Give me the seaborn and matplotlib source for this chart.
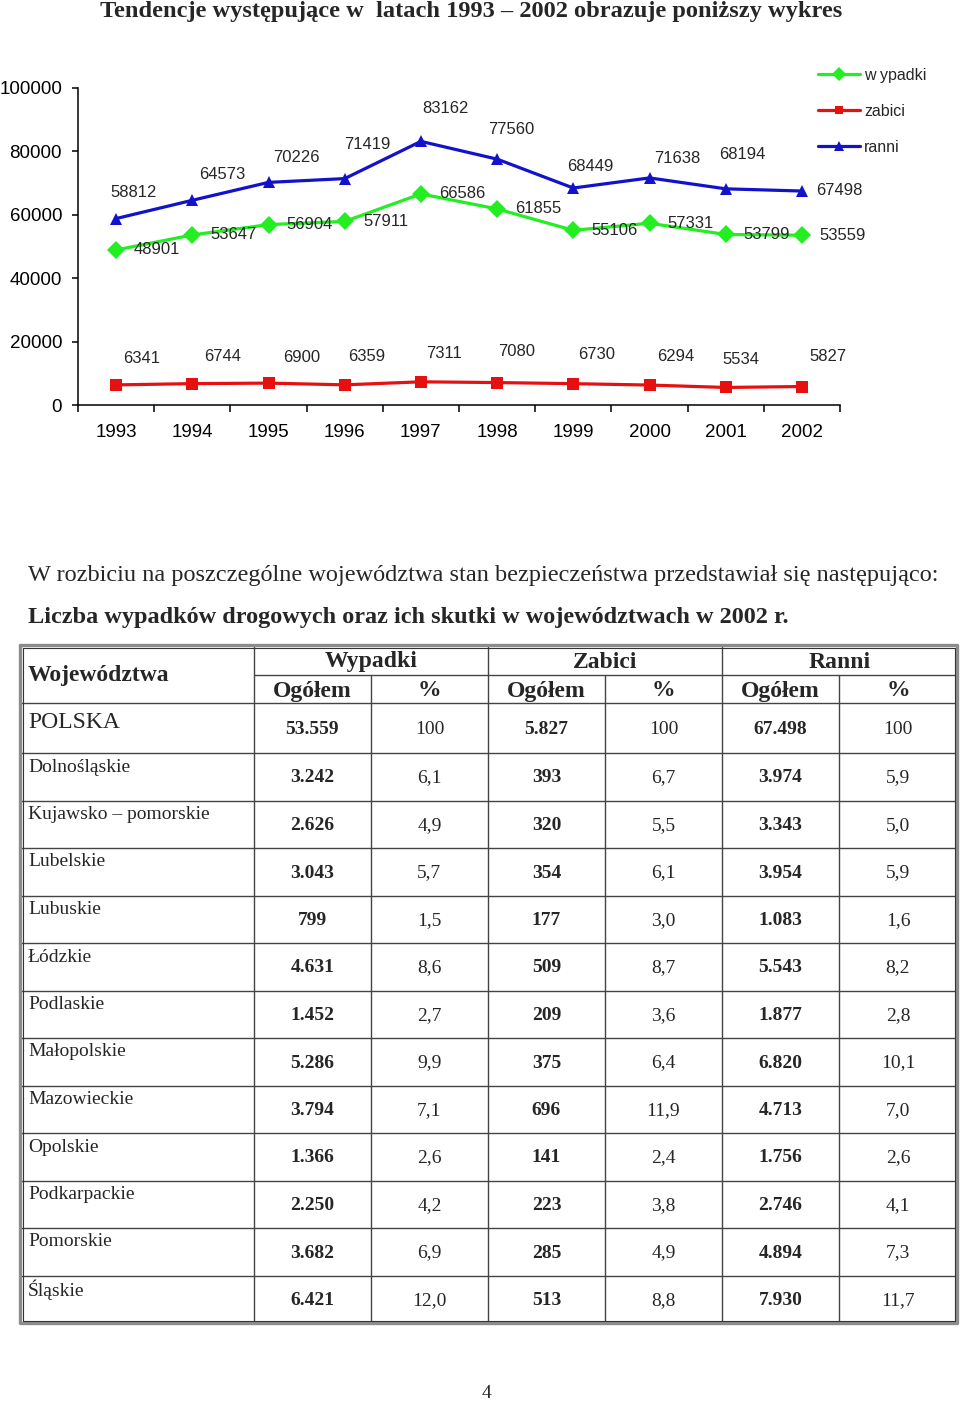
import matplotlib
matplotlib.use('Agg')
import matplotlib.pyplot as plt
import pandas as pd
import seaborn as sns
from matplotlib.lines import Line2D
from matplotlib.ticker import MultipleLocator

# dane do wykresu
lata = [1993, 1994, 1995, 1996, 1997, 1998, 1999, 2000, 2001, 2002]
wypadki = [48901, 53647, 56904, 57911, 66586, 61855, 55106, 57331, 53799, 53559]
zabici = [6341, 6744, 6900, 6359, 7311, 7080, 6730, 6294, 5534, 5827]
ranni = [58812, 64573, 70226, 71419, 83162, 77560, 68449, 71638, 68194, 67498]
serie = ['w ypadki', 'zabici', 'ranni']

# dane do tabeli
wojewodztwa = ['POLSKA', 'Dolnośląskie', 'Kujawsko – pomorskie', 'Lubelskie', 'Lubuskie',
               'Łódzkie', 'Podlaskie', 'Małopolskie', 'Mazowieckie', 'Opolskie',
               'Podkarpackie', 'Pomorskie', 'Śląskie']
wyp_ogolem = ['53.559', '3.242', '2.626', '3.043', '799', '4.631', '1.452', '5.286',
              '3.794', '1.366', '2.250', '3.682', '6.421']
wyp_proc = ['100', '6,1', '4,9', '5,7', '1,5', '8,6', '2,7', '9,9', '7,1', '2,6', '4,2', '6,9', '12,0']
zab_ogolem = ['5.827', '393', '320', '354', '177', '509', '209', '375', '696', '141', '223', '285', '513']
zab_proc = ['100', '6,7', '5,5', '6,1', '3,0', '8,7', '3,6', '6,4', '11,9', '2,4', '3,8', '4,9', '8,8']
ran_ogolem = ['67.498', '3.974', '3.343', '3.954', '1.083', '5.543', '1.877', '6.820',
              '4.713', '1.756', '2.746', '4.894', '7.930']
ran_proc = ['100', '5,9', '5,0', '5,9', '1,6', '8,2', '2,8', '10,1', '7,0', '2,6', '4,1', '7,3', '11,7']

kolory = {'w ypadki': '#22EE22', 'zabici': '#E61010', 'ranni': '#1212CC'}
markery = {'w ypadki': 'D', 'zabici': 's', 'ranni': '^'}
rozmiary = {'w ypadki': 9.5, 'zabici': 8.5, 'ranni': 9}

# przesuniecia etykiet (piksele)
off_wyp = [(41, 0)] * 10
off_zab = [(26, 26), (30, 27), (33, 26), (22, 28), (23, 28), (20, 31), (23, 29), (26, 29), (15, 28), (26, 30)]
off_ran = [(17, 26), (30, 26), (28, 25), (23, 34), (25, 33), (14, 30), (17, 22), (28, 19), (17, 34), (37, 1)]

sns.set_style('ticks', rc={'axes.edgecolor': 'black', 'xtick.color': 'black', 'ytick.color': 'black'})
plt.rcParams['font.family'] = ['Liberation Sans', 'DejaVu Sans']
SERIF = ['Liberation Serif', 'DejaVu Serif']

W, H = 960, 1401
fig = plt.figure(figsize=(W / 100, H / 100), dpi=100)

# strona (tekst + tabela) w pikselach
pg = fig.add_axes([0, 0, 1, 1], zorder=0)
pg.set_xlim(0, W)
pg.set_ylim(H, 0)
pg.axis('off')

ax = fig.add_axes([78 / W, 1 - 405 / H, (840 - 78) / W, (405 - 88) / H], zorder=1)
ax.patch.set_alpha(0)

df = pd.DataFrame({
    'rok': lata * 3,
    'liczba': wypadki + zabici + ranni,
    'seria': [s for s in serie for _ in lata],
})
sns.lineplot(data=df, x='rok', y='liczba', hue='seria', style='seria',
             hue_order=serie, style_order=serie, palette=kolory, markers=markery,
             dashes=False, linewidth=2.3, markeredgewidth=0, legend=False, ax=ax)
for line, s in zip(ax.lines, serie):
    line.set_markersize(rozmiary[s])

for vals, offs in [(wypadki, off_wyp), (zabici, off_zab), (ranni, off_ran)]:
    for rok, v, o in zip(lata, vals, offs):
        ax.annotate(str(v), (rok, v), xytext=o, textcoords='offset pixels',
                    ha='center', va='center', fontsize=12)

ax.set_xlim(1992.5, 2002.5)
ax.set_ylim(0, 100000)
ax.set_xticks(lata)
ax.set_xticks([r - 0.5 for r in lata] + [2002.5], minor=True)
ax.yaxis.set_major_locator(MultipleLocator(20000))
ax.tick_params(axis='x', which='major', length=0, pad=14, labelsize=13.5)
ax.tick_params(axis='x', which='minor', length=5, width=1.1, direction='out')
ax.tick_params(axis='y', length=4.5, width=1.1, pad=7, labelsize=13.5)
ax.set_xlabel('')
ax.set_ylabel('')
for sp in ['left', 'bottom']:
    ax.spines[sp].set_linewidth(1.1)
sns.despine(ax=ax)

uchwyty = [Line2D([], [], color=kolory[s], marker=markery[s], markersize=rozmiary[s] * 0.75,
                  markeredgewidth=0, linewidth=2.3) for s in serie]
fig.legend(uchwyty, serie, loc='upper left', bbox_to_anchor=(818 / W, 1 - 68 / H),
           frameon=False, fontsize=11.5, handlelength=2.6, handletextpad=0.3,
           labelspacing=1.3, borderpad=0, borderaxespad=0)

# teksty strony
pg.text(471, 17, 'Tendencje występujące w  latach 1993 – 2002 obrazuje poniższy wykres',
        ha='center', va='baseline', fontsize=17.6, fontweight='bold', family=SERIF)
pg.text(28, 575, 'W rozbiciu na poszczególne województwa stan bezpieczeństwa przedstawiał się następująco:',
        ha='left', va='center', fontsize=17.5, family=SERIF)
pg.text(28, 617, 'Liczba wypadków drogowych oraz ich skutki w województwach w 2002 r.',
        ha='left', va='center', fontsize=17.5, fontweight='bold', family=SERIF)
pg.text(487, 1393, '4', ha='center', va='center', fontsize=14, family=SERIF)

# tabela
x0, x1 = 20, 957
top, bot = 645, 1323
kol = [254, 371, 488, 605, 722, 839]
wiersze = [703, 753] + [753 + 47.5 * i for i in range(1, 13)]
lc = '#444444'
for y in wiersze[:-1]:
    pg.plot([x0, x1], [y, y], color=lc, lw=1.0)
pg.plot([kol[0], x1], [675, 675], color=lc, lw=1.0)
for i, x in enumerate(kol):
    pg.plot([x, x], [top if i % 2 == 0 else 675, bot], color=lc, lw=1.0)
pg.plot([x0, x1, x1, x0, x0], [top, top, bot, bot, top], color='#8c8c8c', lw=2.4)
pg.plot([x0 + 2.5, x1 - 2.5, x1 - 2.5, x0 + 2.5, x0 + 2.5],
        [top + 2.5, top + 2.5, bot - 2.5, bot - 2.5, top + 2.5], color='#333333', lw=0.8)

pg.text(28, 675, 'Województwa', ha='left', va='center', fontsize=17, fontweight='bold', family=SERIF)
for nazwa, xa, xb in [('Wypadki', 254, 488), ('Zabici', 488, 722), ('Ranni', 722, 957)]:
    pg.text((xa + xb) / 2, 662, nazwa, ha='center', va='center', fontsize=17, fontweight='bold', family=SERIF)
srodki = [(a + b) / 2 for a, b in zip(kol, kol[1:] + [x1])]
for i, xc in enumerate(srodki):
    pg.text(xc, 691, 'Ogółem' if i % 2 == 0 else '%', ha='center', va='center',
            fontsize=17, fontweight='bold', family=SERIF)

kolumny = [wyp_ogolem, wyp_proc, zab_ogolem, zab_proc, ran_ogolem, ran_proc]
for r, nazwa in enumerate(wojewodztwa):
    t = wiersze[r]
    if r == 0:
        pg.text(28, t + 20, nazwa, ha='left', va='center', fontsize=17, family=SERIF)
        yv = t + 27
    else:
        pg.text(28, t + 14, nazwa, ha='left', va='center', fontsize=14, family=SERIF)
        yv = t + 25
    for i, (xc, dane) in enumerate(zip(srodki, kolumny)):
        pg.text(xc, yv, dane[r], ha='center', va='center', fontsize=14,
                fontweight='bold' if i % 2 == 0 else 'normal', family=SERIF)

fig.savefig('out.png', dpi=100)
